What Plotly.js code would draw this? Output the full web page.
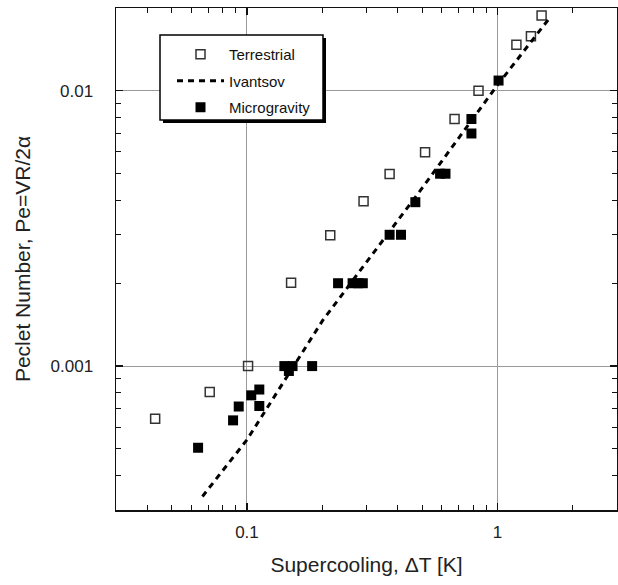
<!DOCTYPE html>
<html>
<head>
<meta charset="utf-8">
<script src="https://cdn.plot.ly/plotly-3.0.1.min.js"></script>
<style>html,body{margin:0;padding:0;background:#fff;}</style>
</head>
<body>
<div id="chart" style="width:618px;height:585px;"></div>
<script>
// Terrestrial (open squares)
const terrX = [0.043, 0.071, 0.101, 0.150, 0.215, 0.292, 0.371, 0.514, 0.674, 0.84, 1.19, 1.36, 1.50];
const terrY = [0.000644, 0.000805, 0.001, 0.00201, 0.00299, 0.00397, 0.00499, 0.00598, 0.0079, 0.0100, 0.0147, 0.0158, 0.0188];

// Microgravity (filled squares)
const microX = [0.0638, 0.088, 0.0927, 0.104, 0.112, 0.112, 0.141, 0.152, 0.147, 0.182, 0.231, 0.264, 0.278, 0.290, 0.371, 0.412, 0.470, 0.59, 0.62, 0.787, 0.787, 1.01];
const microY = [0.000505, 0.000635, 0.000713, 0.000783, 0.000822, 0.000716, 0.001, 0.001, 0.00096, 0.001, 0.002, 0.002, 0.002, 0.002, 0.003, 0.003, 0.00394, 0.005, 0.005, 0.0079, 0.0070, 0.0109];

// Ivantsov curve (dashed)
const ivX = [0.0664, 0.1, 0.2, 0.5, 1.0, 1.607];
const ivY = [0.000336, 0.00054, 0.00146, 0.00443, 0.0105, 0.0183];

const FAM = 'Liberation Sans, Arial, sans-serif';
const axisFont = {family: FAM, size: 17, color: '#222'};

const traces = [
  {x: terrX, y: terrY, name: 'Terrestrial', mode: 'markers', type: 'scatter', legendgroup: 'a',
   marker: {symbol: 'square-open', size: 9, color: '#333', line: {width: 1.5, color: '#333'}}},
  {x: ivX, y: ivY, name: 'Ivantsov', mode: 'lines', type: 'scatter', legendgroup: 'b',
   line: {color: '#000', width: 3, dash: '6px,5px'}},
  {x: microX, y: microY, name: 'Microgravity', mode: 'markers', type: 'scatter', legendgroup: 'c',
   marker: {symbol: 'square', size: 10, color: '#000'}}
];

const lx0 = (160 - 116) / 501, lx1 = (323 - 116) / 501;
const ly1 = (510 - 35) / 502, ly0 = (510 - 120) / 502;
const dx = 3 / 501, dy = 3 / 502;

const layout = {
  width: 618, height: 585,
  margin: {l: 116, r: 1, t: 8, b: 75},
  paper_bgcolor: '#fff', plot_bgcolor: '#fff',
  font: {family: FAM, color: '#222'},
  showlegend: true,
  legend: {
    x: (172 - 116) / 501, y: (510 - 38) / 502, xanchor: 'left', yanchor: 'top',
    bgcolor: 'rgba(0,0,0,0)', borderwidth: 0,
    font: {family: FAM, size: 15, color: '#111'},
    traceorder: 'grouped', tracegroupgap: 4, itemwidth: 47
  },
  xaxis: {
    type: 'log', range: [Math.log10(0.03), Math.log10(3)], dtick: 1,
    exponentformat: 'none',
    showgrid: true, gridcolor: '#9a9a9a', gridwidth: 1,
    showline: true, linecolor: '#111', linewidth: 1.5, mirror: 'ticks',
    ticks: 'inside', ticklen: 7, tickwidth: 1.2, tickcolor: '#111',
    minor: {ticks: 'inside', ticklen: 5, tickwidth: 1, tickcolor: '#111', dtick: 'D1', showgrid: false},
    tickfont: axisFont, ticklabelstandoff: 6,
    zeroline: false,
    title: {text: 'Supercooling, ΔT [K]', font: {family: FAM, size: 21, color: '#222'}, standoff: 16}
  },
  yaxis: {
    type: 'log', range: [Math.log10(0.0003), Math.log10(0.02)], dtick: 1,
    exponentformat: 'none',
    showgrid: true, gridcolor: '#9a9a9a', gridwidth: 1,
    showline: true, linecolor: '#111', linewidth: 1.5, mirror: 'ticks',
    ticks: 'inside', ticklen: 7, tickwidth: 1.2, tickcolor: '#111',
    minor: {ticks: 'inside', ticklen: 5, tickwidth: 1, tickcolor: '#111', dtick: 'D1', showgrid: false},
    tickfont: axisFont, ticklabelstandoff: 18,
    zeroline: false,
    title: {text: 'Peclet Number, Pe=VR/2α', font: {family: FAM, size: 21, color: '#222'}, standoff: 14}
  },
  shapes: [
    {type: 'rect', xref: 'paper', yref: 'paper', x0: lx0 + dx, x1: lx1 + dx, y0: ly0 - dy, y1: ly1 - dy,
     fillcolor: '#000', line: {width: 0}, layer: 'above'},
    {type: 'rect', xref: 'paper', yref: 'paper', x0: lx0, x1: lx1, y0: ly0, y1: ly1,
     fillcolor: '#fff', line: {width: 1.5, color: '#000'}, layer: 'above'}
  ]
};

Plotly.newPlot('chart', traces, layout, {displayModeBar: false, staticPlot: true});
</script>
</body>
</html>
